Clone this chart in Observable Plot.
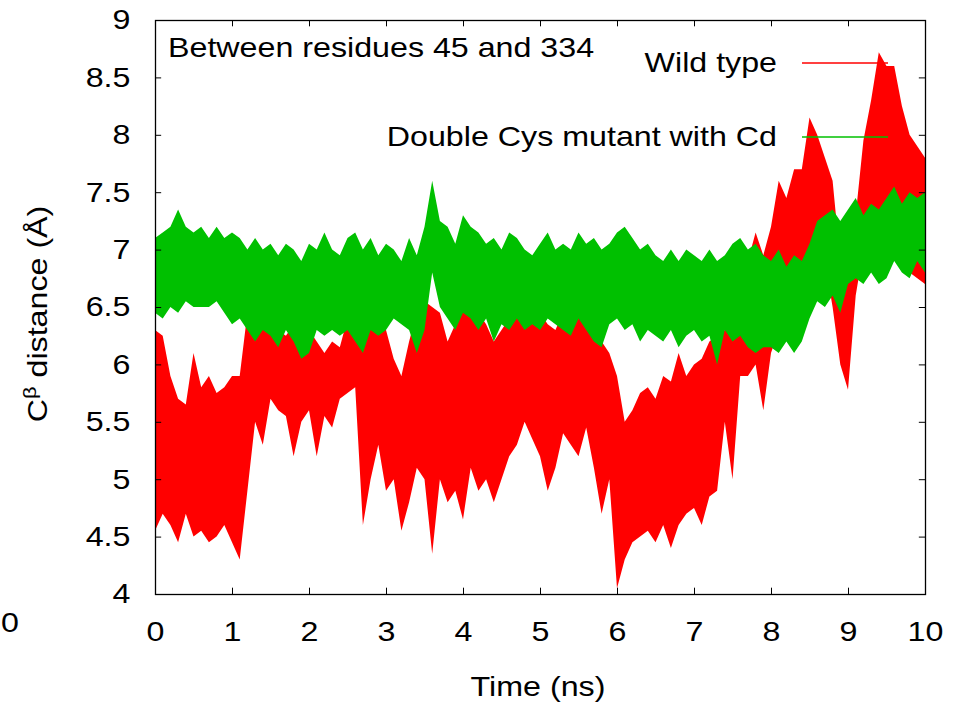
<!DOCTYPE html>
<html><head><meta charset="utf-8">
<script src="https://cdn.jsdelivr.net/npm/d3@7"></script>
<script src="https://cdn.jsdelivr.net/npm/@observablehq/plot@0.6"></script>
<style>
body{margin:0;background:#fff;overflow:hidden}
#chart{position:relative;width:954px;height:704px;overflow:hidden;background:#fff}
</style></head><body><div id="chart"></div>
<script>
// ---- data ----
const xTicks = [0,1,2,3,4,5,6,7,8,9,10];
const yTicks = [4,4.5,5,5.5,6,6.5,7,7.5,8,8.5,9];
const seriesNames = ["Wild type","Double Cys mutant with Cd"];
const seriesColors = ["#ff0000","#00c000"];
const titleText = "Between residues 45 and 334";
const xLabel = "Time (ns)";
// sampling grid: 0.0 .. 10.0 ns, every 0.1 ns
const times = d3.range(0,101).map(i => i/10);

const redHi = [
6.3, 6.25, 5.9, 5.7, 5.65, 6.1, 5.8, 5.9, 5.75, 5.8,
5.9, 5.9, 6.45, 6.55, 6.45, 6.35, 6.3, 6.25, 6.35, 6.3,
6.3, 6.2, 6.1, 6.2, 6.15, 6.4, 6.55, 6.4, 6.35, 6.4,
6.3, 6.05, 5.9, 6.2, 6.45, 6.55, 6.5, 6.45, 6.2, 6.35,
6.55, 6.5, 6.45, 6.35, 6.2, 6.3, 6.4, 6.5, 6.45, 6.35,
6.45, 6.35, 6.3, 6.45, 6.4, 6.5, 6.45, 6.35, 6.2, 6.1,
5.9, 5.5, 5.6, 5.75, 5.8, 5.7, 5.9, 5.85, 6.1, 5.9,
6.0, 6.05, 6.2, 6.25, 6.3, 6.5, 6.45, 6.9, 7.15, 6.95,
7.2, 7.6, 7.45, 7.7, 7.7, 8.15, 8.0, 7.8, 7.6, 6.9,
6.95, 7.3, 7.95, 8.3, 8.72, 8.6, 8.6, 8.25, 8.0, 7.9,
7.8];
const redLo = [
4.55, 4.7, 4.6, 4.45, 4.7, 4.5, 4.55, 4.45, 4.5, 4.6,
4.45, 4.3, 4.9, 5.5, 5.3, 5.7, 5.6, 5.55, 5.2, 5.5,
5.6, 5.2, 5.55, 5.45, 5.7, 5.75, 5.8, 4.6, 5.0, 5.3,
4.9, 5.0, 4.55, 4.8, 5.1, 5.0, 4.35, 5.0, 4.8, 4.9,
4.65, 5.1, 4.9, 5.0, 4.8, 5.0, 5.2, 5.3, 5.5, 5.35,
5.2, 4.9, 5.1, 5.4, 5.3, 5.2, 5.45, 5.1, 4.7, 5.0,
4.05, 4.3, 4.45, 4.5, 4.55, 4.45, 4.6, 4.4, 4.6, 4.7,
4.75, 4.6, 4.85, 4.9, 5.5, 5.0, 5.9, 5.9, 6.0, 5.6,
6.1, 6.3, 6.5, 6.8, 6.7, 6.8, 6.75, 6.9, 6.5, 6.0,
5.78, 6.6, 7.0, 7.2, 7.3, 7.3, 7.0, 6.9, 6.8, 6.75,
6.7];
const greenHi = [
7.1, 7.15, 7.2, 7.35, 7.2, 7.15, 7.2, 7.1, 7.2, 7.1,
7.15, 7.1, 7.0, 7.1, 7.0, 7.05, 6.95, 7.05, 7.0, 6.9,
7.05, 7.0, 7.15, 7.0, 6.95, 7.1, 7.15, 7.0, 7.1, 6.95,
7.05, 7.0, 6.9, 7.1, 6.95, 7.2, 7.6, 7.25, 7.2, 7.05,
7.3, 7.2, 7.15, 7.05, 7.1, 7.0, 7.15, 7.1, 7.0, 6.95,
7.05, 7.15, 7.0, 7.05, 7.0, 7.15, 7.05, 7.1, 7.0, 7.05,
7.15, 7.2, 7.1, 7.0, 7.05, 6.95, 6.9, 7.0, 6.9, 7.0,
6.95, 6.9, 7.0, 6.9, 6.95, 7.05, 7.1, 7.0, 7.05, 6.95,
6.9, 7.0, 6.85, 6.95, 6.9, 7.05, 7.25, 7.3, 7.35, 7.25,
7.35, 7.45, 7.3, 7.4, 7.35, 7.45, 7.55, 7.4, 7.5, 7.45,
7.5];
const greenLo = [
6.45, 6.4, 6.5, 6.45, 6.55, 6.5, 6.5, 6.5, 6.55, 6.45,
6.35, 6.4, 6.3, 6.2, 6.3, 6.25, 6.15, 6.3, 6.2, 6.05,
6.1, 6.3, 6.25, 6.3, 6.25, 6.3, 6.2, 6.1, 6.3, 6.25,
6.3, 6.4, 6.35, 6.3, 6.1, 6.3, 6.8, 6.5, 6.4, 6.3,
6.45, 6.4, 6.3, 6.4, 6.2, 6.35, 6.3, 6.4, 6.3, 6.35,
6.3, 6.4, 6.35, 6.3, 6.25, 6.4, 6.3, 6.2, 6.15, 6.35,
6.4, 6.3, 6.35, 6.2, 6.3, 6.25, 6.2, 6.3, 6.15, 6.25,
6.3, 6.2, 6.25, 6.0, 6.3, 6.2, 6.25, 6.15, 6.1, 6.15,
6.15, 6.1, 6.2, 6.1, 6.2, 6.4, 6.55, 6.5, 6.6, 6.45,
6.7, 6.75, 6.7, 6.8, 6.7, 6.75, 6.9, 6.8, 6.75, 6.9,
6.8];

// ---- build tables ----
const rows = (hi, lo) => times.map((t, i) => ({t, hi: hi[i], lo: lo[i]}));
const redRows = rows(redHi, redLo);
const greenRows = rows(greenHi, greenLo);

const FONT = "'Liberation Sans', Arial, sans-serif";
const plot = Plot.plot({
  width: 954, height: 704,
  marginLeft: 155, marginRight: 29, marginTop: 20, marginBottom: 110,
  style: {fontFamily: FONT, fontSize: "28px", color: "#000", background: "#fff", overflow: "visible"},
  x: {domain: [0, 10]},
  y: {domain: [4, 9]},
  marks: [
    Plot.areaY(redRows, {x: "t", y1: "lo", y2: "hi", fill: seriesColors[0]}),
    Plot.areaY(greenRows, {x: "t", y1: "lo", y2: "hi", fill: seriesColors[1]}),
    Plot.ruleY(yTicks, {y: d => d, x1: 0, x2: 0.08, stroke: "#000"}),
    Plot.ruleY(yTicks, {y: d => d, x1: 9.92, x2: 10, stroke: "#000"}),
    Plot.ruleX(xTicks, {x: d => d, y1: 4, y2: 4.055, stroke: "#000"}),
    Plot.ruleX(xTicks, {x: d => d, y1: 9, y2: 8.945, stroke: "#000"}),
    Plot.frame({stroke: "#000", strokeWidth: 1.3}),
    Plot.axisY({ticks: yTicks, tickSize: 0, tickPadding: 25, tickFormat: d => String(d), label: null}),
    Plot.axisX({ticks: xTicks, tickSize: 0, tickPadding: 27, tickFormat: d => String(d), label: null})
  ]
});
document.getElementById("chart").appendChild(plot);

const svg = d3.select(plot);
// title inside the frame
svg.append("text").attr("x", 168).attr("y", 57).attr("text-anchor", "start").text(titleText);
// legend
const legY = [63, 137];
seriesNames.forEach((name, i) => {
  svg.append("text").attr("x", 777).attr("y", legY[i] + 9).attr("text-anchor", "end").text(name);
  svg.append("line").attr("x1", 802).attr("x2", 888).attr("y1", legY[i]).attr("y2", legY[i])
     .attr("stroke", seriesColors[i]).attr("stroke-width", 1.5);
});
// axis titles
svg.append("text").attr("x", 538).attr("y", 696).attr("text-anchor", "middle").text(xLabel);
const yt = svg.append("text").attr("transform", "translate(47,314) rotate(-90)").attr("text-anchor", "middle");
yt.append("tspan").text("C");
yt.append("tspan").attr("font-size", "19px").attr("dy", "-11").text("β");
yt.append("tspan").attr("dy", "11").text(" distance (Å)");
// stray glyph at the left edge of the original picture (kept fully visible)
svg.append("text").attr("x", 1).attr("y", 632).attr("text-anchor", "start").text("0");

// the reference's text is drawn about 15% wider than the font's natural width
svg.selectAll("text").each(function() {
  const len = this.getComputedTextLength();
  if (len > 0) {
    this.setAttribute("textLength", (len * 1.15).toFixed(1));
    this.setAttribute("lengthAdjust", "spacingAndGlyphs");
  }
});
</script></body></html>
